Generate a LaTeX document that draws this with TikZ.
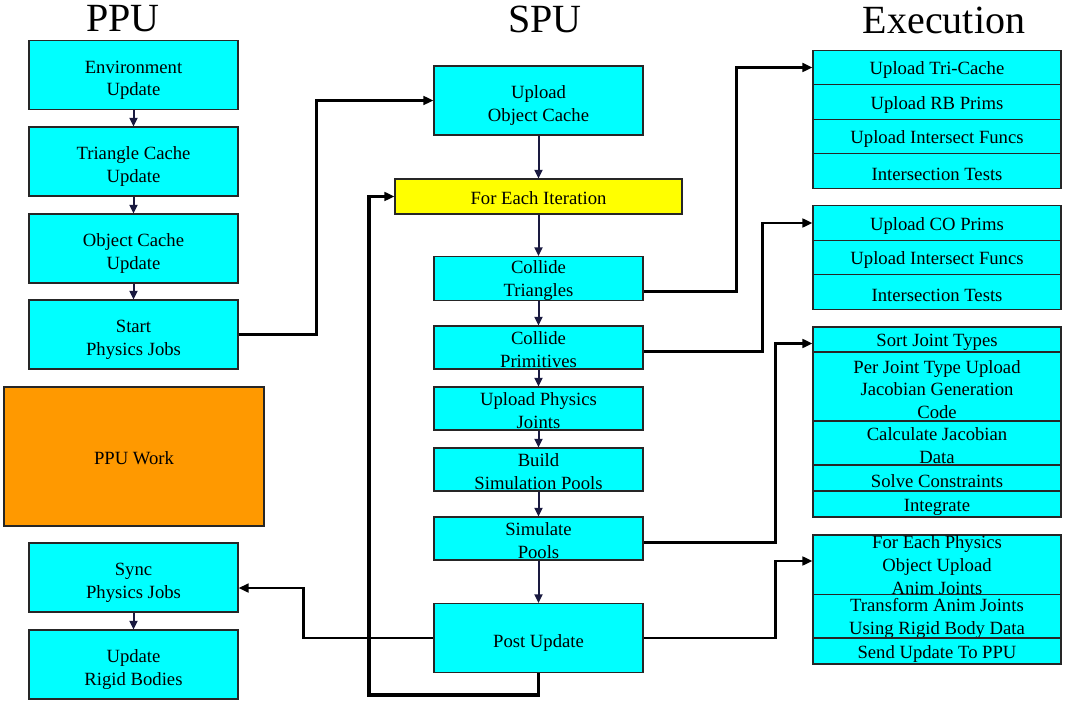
\documentclass[tikz,border=0pt]{standalone}
\usepackage{fontspec}
\setmainfont{Liberation Serif}
\usetikzlibrary{arrows.meta}
\definecolor{boxcyan}{HTML}{00FFFF}
\definecolor{iteryellow}{HTML}{FFFF00}
\definecolor{workorange}{HTML}{FF9900}
\definecolor{stepnavy}{HTML}{1A1A40}
\tikzset{
	box/.style={draw=black!85, line width=0.8pt, fill=boxcyan, inner sep=0pt, align=center, font=\fontsize{14}{17}\selectfont},
	lowtext/.style={execute at begin node={\rule{0pt}{#1}}},
	bigbox/.style={box, lowtext=34pt, minimum width=156.75pt, minimum height=51.75pt},
	smallbox/.style={box, lowtext=30pt, minimum width=156.75pt, minimum height=32.25pt},
	exrow/.style={box, minimum width=186pt},
	exline/.style={exrow, lowtext=14pt},
	coltitle/.style={font=\fontsize{30}{36}\selectfont},
	link/.style={line width=2.2pt, -{Triangle[length=7.5pt,width=6.5pt]}},
	stepline/.style={line width=1.5pt, draw=stepnavy, -{Triangle[length=6.5pt,width=6pt]}},
}
\begin{document}
\begin{tikzpicture}[x=0.75pt,y=-0.75pt]
		\useasboundingbox (0,0) rectangle (1066,705);
		% Column headings
		\node [coltitle] (ppuhead) at (123,19) {PPU};
		\node [coltitle] (spuhead) at (545,19) {SPU};
		\node [coltitle] (exehead) at (944,20) {Execution};
		% PPU column
		\node [bigbox] (envupd) at (133.5,75) {Environment\\Update};
		\node [bigbox] (tricache) at (133.5,161.5) {Triangle Cache\\Update};
		\node [bigbox] (objcache) at (133.5,248.5) {Object Cache\\Update};
		\node [bigbox] (startjobs) at (133.5,334.5) {Start\\Physics Jobs};
		\node [box, lowtext=12.5pt, fill=workorange, minimum width=195pt, minimum height=104.25pt] (ppuwork) at (134,456.5) {PPU Work};
		\node [bigbox] (syncjobs) at (133.5,577.5) {Sync\\Physics Jobs};
		\node [bigbox] (rigidupd) at (133.5,664.5) {Update\\Rigid Bodies};
		% SPU column
		\node [bigbox] (uploadcache) at (538.5,100.5) {Upload\\Object Cache};
		\node [box, lowtext=12.5pt, fill=iteryellow, minimum width=215.25pt, minimum height=26.25pt] (eachiter) at (538.5,196.5) {For Each Iteration};
		\node [smallbox] (coltri) at (538.5,278.5) {Collide\\Triangles};
		\node [smallbox] (colprim) at (538.5,347.5) {Collide\\Primitives};
		\node [smallbox] (upjoints) at (538.5,408.5) {Upload Physics\\Joints};
		\node [smallbox] (buildpools) at (538.5,469.5) {Build\\Simulation Pools};
		\node [smallbox] (simpools) at (538.5,538.5) {Simulate\\Pools};
		\node [box, lowtext=16.5pt, minimum width=156.75pt, minimum height=51.75pt] (postupd) at (538.5,638) {Post Update};
		% Execution: triangle collision
		\node [exline, minimum height=25.875pt] (uptri) at (937,67.5) {Upload Tri-Cache};
		\node [exline, minimum height=25.875pt] (uprb) at (937,102) {Upload RB Prims};
		\node [exline, minimum height=25.875pt] (upfuncs) at (937,136.5) {Upload Intersect Funcs};
		\node [exline, minimum height=25.875pt] (tritests) at (937,171) {Intersection Tests};
		% Execution: primitive collision
		\node [exline, minimum height=25.875pt] (upco) at (937,223) {Upload CO Prims};
		\node [exline, minimum height=25.875pt] (upfuncstwo) at (937,257.5) {Upload Intersect Funcs};
		\node [exline, minimum height=25.875pt] (primtests) at (937,292) {Intersection Tests};
		% Execution: simulation
		\node [exline, minimum height=18.75pt] (sortjt) at (937,339.5) {Sort Joint Types};
		\node [exrow, lowtext=48pt, minimum height=51.75pt] (perjoint) at (937,386.5) {Per Joint Type Upload\\Jacobian Generation\\Code};
		\node [exrow, lowtext=31pt, minimum height=33pt] (calcjac) at (937,443) {Calculate Jacobian\\Data};
		\node [exline, minimum height=19.5pt] (solvecons) at (937,478) {Solve Constraints};
		\node [exline, minimum height=19.5pt] (integ) at (937,504) {Integrate};
		% Execution: post update
		\node [exrow, minimum height=45pt] (eachphys) at (937,565) {For Each Physics\\Object Upload\\Anim Joints};
		\node [exrow, lowtext=29.5pt, minimum height=32.25pt] (transform) at (937,616.5) {Transform Anim Joints\\Using Rigid Body Data};
		\node [exline, minimum height=19.5pt] (sendupd) at (937,651) {Send Update To PPU};
		% PPU steps
		\draw [stepline] (envupd) -- (tricache);
		\draw [stepline] (tricache) -- (objcache);
		\draw [stepline] (objcache) -- (startjobs);
		\draw [stepline] (syncjobs) -- (rigidupd);
		% SPU steps
		\draw [stepline] (uploadcache) -- (eachiter);
		\draw [stepline] (eachiter) -- (coltri);
		\draw [stepline] (coltri) -- (colprim);
		\draw [stepline] (colprim) -- (upjoints);
		\draw [stepline] (upjoints) -- (buildpools);
		\draw [stepline] (buildpools) -- (simpools);
		\draw [stepline] (simpools) -- (postupd);
		% PPU <-> SPU
		\draw [link, line width=1.8pt] (startjobs.east) -- ++(78,0) |- (uploadcache.west);
		\draw [link, line width=1.8pt] (postupd.west) -- ++(-130,0) |- ([yshift=-7.9pt]syncjobs.east);
		% iteration loop
		\coordinate (loopbase) at (369,695);
		\draw [link, line width=2.6pt] (postupd.south) |- (loopbase) |- (eachiter.west);
		% SPU -> Execution
		\draw [link] ([yshift=-10pt]coltri.east) -- ++(93,0) |- (uptri.west);
		\draw [link] ([yshift=-3.2pt]colprim.east) -- ++(119,0) |- (upco.west);
		\draw [link] ([yshift=-3.2pt]simpools.east) -- ++(132,0) |- ([yshift=-3pt]sortjt.west);
		\draw [link] (postupd.east) -- ++(132,0) |- ([yshift=3pt]eachphys.west);
\end{tikzpicture}
\end{document}
